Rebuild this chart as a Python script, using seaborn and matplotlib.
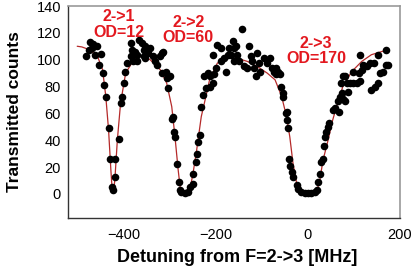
import numpy as np
import pandas as pd
import matplotlib
matplotlib.use("Agg")
import matplotlib.pyplot as plt
from matplotlib.ticker import MultipleLocator
import seaborn as sns

# measured points (detuning MHz, counts)
det = [-480, -475, -472, -468, -465, -461, -458, -452, -449, -445, -442, -438, -432, -430,
       -425, -422, -418, -417, -409, -406, -402, -398, -396, -391, -384, -384, -381, -378,
       -377, -374, -371, -370, -367, -360, -356, -356, -353, -353, -346, -342, -335, -331,
       -327, -320, -317, -317, -313, -308, -305, -303, -299, -295, -293, -290, -288, -283,
       -279, -277, -274, -267, -260, -255, -250, -249, -243, -241, -238, -234, -231, -227,
       -224, -221, -217, -213, -211, -206, -206, -203, -199, -196, -189, -189, -181, -178,
       -174, -170, -166, -163, -161, -160, -156, -153, -149, -142, -138, -131, -128, -124,
       -120, -117, -113, -110, -106, -103, -95, -88, -81, -77, -74, -70, -69, -64, -60,
       -57, -54, -53, -48, -46, -44, -42, -41, -39, -35, -32, -24, -21, -14, -6, 1, 8,
       15, 19, 22, 26, 29, 33, 35, 37, 40, 44, 47, 54, 58, 65, 67, 70, 72, 74, 76, 77,
       81, 81, 85, 88, 92, 99, 99, 106, 110, 113, 113, 117, 120, 128, 135, 138, 144, 145,
       153, 153, 156, 163, 170, 170, 174]
counts = [103, 107.5, 113, 108.8, 112, 103.7, 110, 96, 104.5, 90, 81, 72.5, 49, 26,
          5, 3, 12.6, 26, 41, 67.5, 72.5, 82.5, 91, 97.5, 102.5, 112.5, 107, 98.7,
          105, 106, 103.7, 98.7, 115, 112.5, 107.5, 102.5, 110, 101, 105, 108.8, 102.5, 98.7,
          96, 102.5, 105, 90, 106, 91, 86, 79, 87.5, 56, 57.5, 46.3, 42.5, 22.6,
          8.8, 2.6, 1.3, 0.6, 1.3, 5, 7.6, 15, 24, 30, 39, 44, 65, 74,
          87.5, 79, 90, 87.5, 80, 82.5, 103.7, 89, 94, 111, 108.8, 98.7, 101, 91,
          103.7, 108.8, 103.7, 113.7, 108.8, 98.7, 110, 103.7, 98.7, 122.5, 95, 94, 110, 102.5,
          98.7, 94, 87.5, 105, 97.5, 91, 101, 97.5, 101, 94, 91, 89, 94, 91, 89,
          79.5, 72.5, 75, 60, 61, 55, 49, 26, 21, 16, 12.6, 6.4, 3.9, 1.3, 0.6, 0.6, 0.6,
          1.3, 3, 8.8, 15, 24, 26, 36, 42.5, 46, 50, 52.5, 62.5, 64, 69, 61, 72.5, 82.5, 75, 87.5, 71,
          69, 87.5, 82.5, 76, 82.5, 82.5, 91, 82.5, 90, 84, 103.7, 92.5, 96, 95, 97.5, 77.5, 97.5, 80,
          82.5, 103.7, 90, 91, 96, 107.5, 96]

# fit curve
fit_det = [-500, -490, -474, -456, -445, -438, -432, -427, -424, -421, -418, -413, -406,
           -395, -377, -359, -342, -320, -306, -295, -288, -281, -276, -266, -256, -249,
           -241, -231, -220, -213, -196, -174, -153, -131, -110, -88, -71, -57, -46, -39,
           -32, -24, -17, 0, 19, 26, 33, 44, 54, 65, 76, 95, 117, 138, 160, 174]
fit_counts = [110, 109.5, 107.5, 102.5, 92.5, 72.5, 47.5, 17.6, 2, 1, 12.6, 40, 67.5,
              90, 100, 103, 100, 92.5, 82.5, 65, 42.5, 17.6, 2.6, 1.5, 2.6, 15,
              32.6, 57.5, 74, 85, 97.5, 101, 101, 98.7, 95, 90, 85, 73, 57.5, 42.5,
              22.6, 7.6, 1.3, 0.8, 1.3, 10, 25, 40, 55, 68, 80, 91, 98.7, 103.7, 106, 107.5]

labels = ["2->1\nOD=12", "2->2\nOD=60", "2->3\nOD=170"]
label_x = [-410, -259, 18]
label_y = [126, 122, 106.5]

pts = pd.DataFrame({"det": det, "counts": counts})
fit = pd.DataFrame({"det": fit_det, "counts": fit_counts})

sns.set_style("white")
plt.rcParams['font.family'] = ['Liberation Sans', 'DejaVu Sans']

fig = plt.figure(figsize=(4.15, 2.69), dpi=100)
ax = fig.add_axes([68 / 415, 1 - 218 / 269, 332 / 415, 212 / 269])

sns.lineplot(data=fit, x="det", y="counts", ax=ax, color="#b52a2a", linewidth=0.9,
             estimator=None, sort=False)
sns.scatterplot(data=pts, x="det", y="counts", ax=ax, color="black", s=30,
                edgecolor="black", linewidth=0, zorder=3)

for t, lx, ly in zip(labels, label_x, label_y):
    ax.text(lx, ly, t, color="#e3181f", fontsize=11.5, fontweight="bold",
            ha="center", va="center", linespacing=1.05)

ax.set_xlim(-520, 200)
ax.set_ylim(-18, 140)
ax.xaxis.set_major_locator(MultipleLocator(200))
ax.xaxis.set_minor_locator(MultipleLocator(40))
ax.yaxis.set_major_locator(MultipleLocator(20))
ax.yaxis.set_minor_locator(MultipleLocator(10))
ax.set_yticks(range(0, 141, 20))
ax.tick_params(which="both", direction="in", colors="#333333", labelcolor="black",
               labelsize=10.5)
ax.tick_params(which="major", length=4, width=0.8)
ax.tick_params(which="minor", length=2.5, width=0.6)
ax.tick_params(axis="x", pad=7)
ax.tick_params(axis="y", pad=5)

for side in ["left", "bottom"]:
    ax.spines[side].set_color("#333333")
    ax.spines[side].set_linewidth(1.0)
for side in ["top", "right"]:
    ax.spines[side].set_color("#999999")
    ax.spines[side].set_linewidth(1.2)

ax.set_xlabel("Detuning from F=2->3 [MHz]", fontsize=13, fontweight="bold", color="black")
ax.set_ylabel("Transmitted counts", fontsize=12.5, fontweight="bold", color="black")
ax.yaxis.set_label_coords(-0.14, 0.5)
ax.xaxis.set_label_coords(0.51, -0.148)

fig.savefig("out.png", dpi=100)
